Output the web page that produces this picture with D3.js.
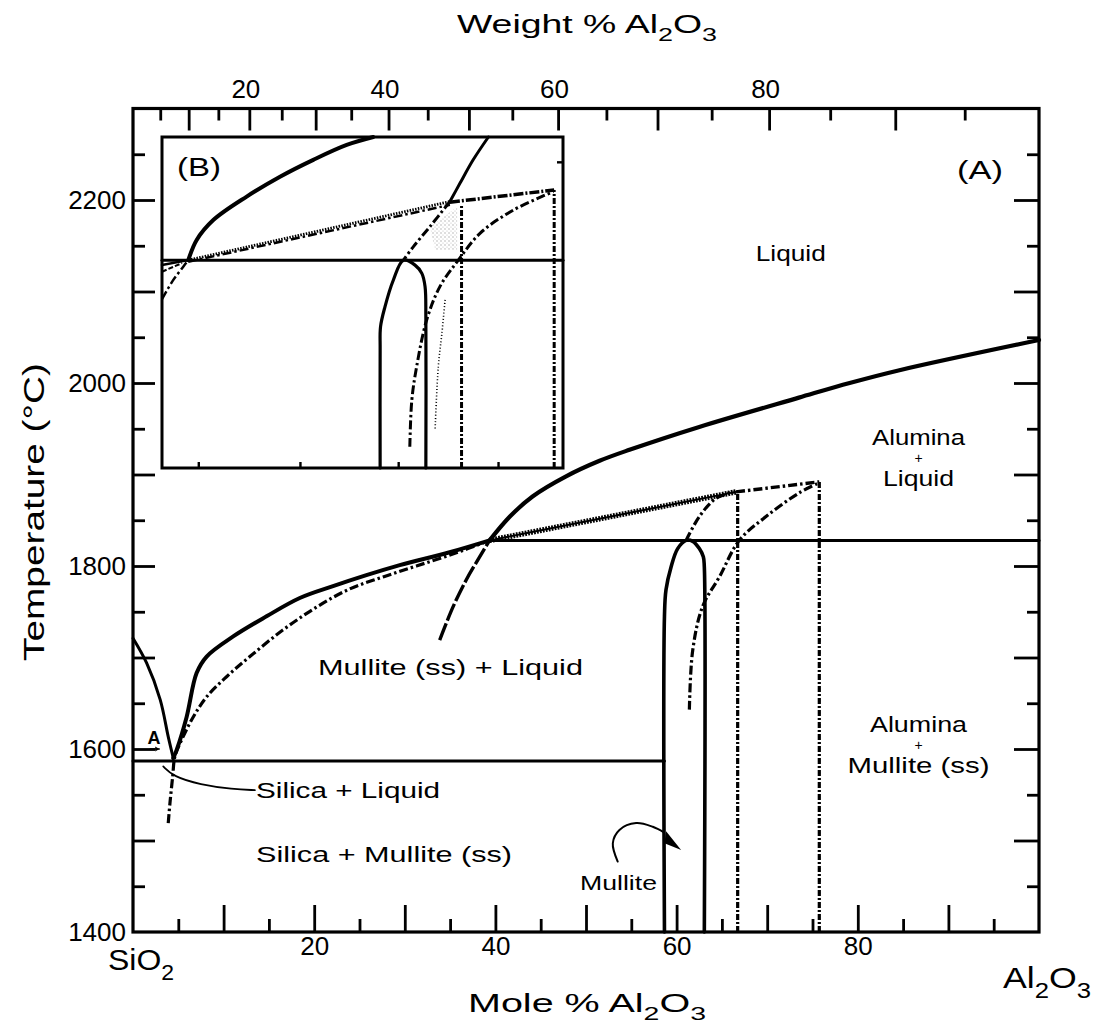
<!DOCTYPE html>
<html><head><meta charset="utf-8">
<script src="https://cdn.jsdelivr.net/npm/d3@7"></script>
<style>body{margin:0;background:#fff}svg{display:block}</style>
</head><body>
<svg id="chart" width="1094" height="1034"></svg>
<script>
// ---------- axis values ----------
const moleTicks = [5,10,15,20,25,30,35,40,45,50,55,60,65,70,75,80,85,90,95];
const moleLabels = [20,40,60,80];
const weightTicks = [5,10,15,20,25,30,35,40,45,50,55,60,65,70,75,80,85,90,95];
const weightLabels = [20,40,60,80];
const tempTicks = [1450,1500,1550,1600,1650,1700,1750,1800,1850,1900,1950,2000,2050,2100,2150,2200,2250];
const tempLabels = [1400,1600,1800,2000,2200];

// ---------- main diagram (mole % Al2O3, °C) ----------
const eutecticLine = [[0,1587],[58.66,1587]];
const peritecticLine = [[39.36,1828],[100,1828]];
const cristobaliteLiquidus = [[0,1721],[1.5,1694],[3.0,1654],[3.9,1613],[4.45,1590]];
const mulliteLiquidus = [[4.44,1590],[4.82,1599],[5.92,1635],[7.02,1683],[8.13,1701],[11.06,1723],[14.74,1745],[18.41,1765],[22.08,1778],[25.76,1790],[29.44,1801],[34.95,1815],[39.36,1828]];
const aluminaLiquidus = [[39.36,1828],[41.6,1854],[44.1,1876],[47.8,1898],[51.5,1915],[54.8,1927],[62.5,1952],[73.5,1984],[79.1,2000],[84.6,2014],[100,2047]];
const liquidusExtension = [[33.85,1719],[35.31,1755],[36.79,1785],[38.26,1810],[39.36,1828]];
const metastableLiquidus = [[3.89,1519],[4.08,1541],[4.38,1570],[4.63,1592],[5.37,1610],[6.65,1635],[8.13,1657],[10.33,1679],[12.9,1701],[16.54,1730],[20.25,1755],[23.93,1775],[27.6,1788],[31.28,1800],[35.3,1813],[39.36,1828]];
const metastableDotted = [[39.36,1828],[66.56,1881]];
const metastableDashDot = [[66.56,1881],[75.75,1892]];
const mulliteSS = [[58.66,1400],[58.66,1745],[58.83,1774],[59.39,1799],[60.12,1819],[61.05,1828],[61.78,1827],[62.51,1819],[62.95,1810],[63.06,1799],[63.06,1400]];
const mulliteMetaUpper = [[61.05,1828],[62.51,1854],[64.35,1874],[66.3,1881]];
const mulliteMetaRight = [[61.41,1643],[61.78,1708],[62.88,1756],[64.72,1788],[66.92,1828],[69.87,1854],[73.54,1880],[75.75,1891]];
const dashVertical1 = [[66.74,1400],[66.74,1881]];
const dashVertical2 = [[75.75,1400],[75.75,1892]];

// annotations (data units)
const silicaLeader = [[3.34,1581],[4.44,1570],[7.39,1561],[11.03,1556],[13.45,1555]];
const mulliteArrowArc = [[53.5,1477],[52.96,1497],[53.69,1511.5],[55.53,1519],[57.37,1515],[58.6,1509]];
const mulliteArrowHead = [[58.84,1510],[60.5,1489.6],[58.66,1497]];
const arrowA = [[1.9,1600],[2.9,1600]];
const regionLabels = [
  {key:'liq', lines:['Liquid'], m:72.6, t:2133},
  {key:'al1', lines:['Alumina','+','Liquid'], m:86.7, t:1932},
  {key:'al2', lines:['Alumina','+','Mullite (ss)'], m:86.7, t:1618.5},
  {key:'msl', lines:['Mullite (ss) + Liquid'], m:20.42, t:1681},
  {key:'sl', lines:['Silica + Liquid'], m:13.58, t:1546},
  {key:'sm', lines:['Silica + Mullite (ss)'], m:13.58, t:1476.5},
  {key:'mul', lines:['Mullite'], m:49.34, t:1446},
  {key:'A', lines:['(A)'], m:93.5, t:2223},
  {key:'a', lines:['A'], m:2.32, t:1606}
];

// ---------- inset (B), relative units 0-100 ----------
const insetHorizontal = [[0,62.8],[100,62.8]];
const insetLiquidus = [[6.56,62.8],[8.65,68.9],[12.79,74.9],[21.12,82.0],[29.43,88.0],[37.73,93.1],[46.06,97.6],[52.7,100]];
const insetLeftSolid = [[0,61.3],[6.56,62.8]];
const insetLeftDash = [[0,59.3],[5.0,61.9]];
const insetLeftCurve = [[0,51.0],[2.7,56.6],[5.3,60.8],[6.4,62.6]];
const insetMetaDotted = [[6.56,62.8],[71.8,80.5]];
const insetMetaDashDot = [[6.56,62.3],[71.8,79.5]];
const insetMetaRight = [[71.8,80.3],[97.8,84.0]];
const insetMulliteLiquidus = [[81.4,100],[77.6,93.1],[74.3,86.0],[71.8,80.5]];
const insetLiquidusDash = [[71.8,80.5],[66.8,72.9],[62.7,66.9],[60.2,62.8]];
const insetMulliteSS = [[54.4,0],[54.4,35.6],[54.5,42.7],[55.6,48.7],[57.7,56.8],[60.2,62.8],[63.1,61.3],[64.8,58.8],[65.6,54.8],[65.8,45],[65.8,0]];
const insetDashRight = [[61.8,6.4],[62.3,20.5],[63.5,30.6],[66.0,44.7],[69.3,54.8],[73.9,62.8],[79.3,70.9],[87.6,77.9],[97.6,83.5]];
const insetVertical1 = [[74.7,0],[74.7,79.5]];
const insetVertical2 = [[97.8,0],[97.8,84.0]];
const insetStippleLine = [[70.6,50.8],[69.8,40.7],[68.9,30.6],[68.1,11.5]];
const insetStipplePatch = [[66.8,72.8],[73.6,78.9],[73.6,65.9],[68.1,65.9]];
const insetTicksX = [9.05,34.4,58.9,83.8];
const insetTicksY = [92.5];

// ---------- drawing ----------
const FONT = "'Liberation Sans', Arial, Helvetica, sans-serif";
const svg = d3.select('#chart');
svg.append('rect').attr('width',1094).attr('height',1034).attr('fill','#fff');

const x = d3.scaleLinear().domain([0,100]).range([133,1039]);
const y = d3.scaleLinear().domain([1400,2300]).range([932,108.5]);
const w2m = w => 100*(w/101.96)/((w/101.96)+((100-w)/60.08));

const defs = svg.append('defs');
const pat = defs.append('pattern').attr('id','stip').attr('width',4).attr('height',4).attr('patternUnits','userSpaceOnUse');
pat.append('circle').attr('cx',1).attr('cy',1).attr('r',0.7).attr('fill','#666');
pat.append('circle').attr('cx',3).attr('cy',3).attr('r',0.6).attr('fill','#888');

function drawLine(g, data, sx, sy, width, dash, curve){
  const gen = d3.line().x(d=>sx(d[0])).y(d=>sy(d[1])).curve(curve||d3.curveLinear);
  g.append('path').attr('d',gen(data)).attr('fill','none').attr('stroke','#000')
    .attr('stroke-width',width).attr('stroke-dasharray',dash||null)
    .attr('stroke-linejoin','round').attr('stroke-linecap', dash?'butt':'round');
}
const CR = d3.curveCatmullRom.alpha(0.5);
const DASHDOT = '9,3,2.5,3';

function tickAxis(axisFn, scale, values, size, transform){
  const g = svg.append('g').attr('transform',transform)
    .call(axisFn(scale).tickValues(values).tickSize(size).tickFormat(''));
  g.select('.domain').remove();
  g.selectAll('line').attr('stroke','#000').attr('stroke-width',2.8);
}
function labelAxis(axis, transform){
  const g = svg.append('g').attr('transform',transform).call(axis);
  g.select('.domain').remove();
  g.selectAll('line').remove();
  g.attr('font-family',FONT).attr('font-size',26);
  g.selectAll('text').attr('fill','#000');
  return g;
}

// bottom (mole %) ticks pointing up
tickAxis(d3.axisTop, x, moleTicks.filter(d=>d%10===0), 27, `translate(0,${y(1400)})`);
tickAxis(d3.axisTop, x, moleTicks.filter(d=>d%10!==0), 13, `translate(0,${y(1400)})`);
labelAxis(d3.axisBottom(x).tickValues(moleLabels).tickSize(0).tickPadding(5), `translate(0,${y(1400)})`);

// top (weight %) ticks pointing down
tickAxis(d3.axisBottom, x, weightTicks.filter(d=>d%10===0).map(w2m), 22, `translate(0,${y(2300)})`);
tickAxis(d3.axisBottom, x, weightTicks.filter(d=>d%10!==0).map(w2m), 12, `translate(0,${y(2300)})`);
labelAxis(d3.axisTop(x).tickValues(weightLabels.map(w2m)).tickFormat((d,i)=>weightLabels[i]).tickSize(0).tickPadding(11), `translate(-4,${y(2300)})`);

// left / right temperature ticks (inward)
tickAxis(d3.axisRight, y, tempTicks.filter(d=>d%100===0), 22, `translate(${x(0)},0)`);
tickAxis(d3.axisRight, y, tempTicks.filter(d=>d%100!==0), 12, `translate(${x(0)},0)`);
tickAxis(d3.axisLeft, y, tempTicks.filter(d=>d%100===0), 25, `translate(${x(100)},0)`);
tickAxis(d3.axisLeft, y, tempTicks.filter(d=>d%100!==0), 12, `translate(${x(100)},0)`);
labelAxis(d3.axisLeft(y).tickValues(tempLabels).tickFormat(d3.format('d')).tickSize(0).tickPadding(7), `translate(${x(0)},0)`);

// frame
svg.append('rect').attr('x',x(0)).attr('y',y(2300)).attr('width',x(100)-x(0)).attr('height',y(1400)-y(2300))
  .attr('fill','none').attr('stroke','#000').attr('stroke-width',3.2);

// main curves
const g = svg.append('g');
drawLine(g, eutecticLine, x, y, 3);
drawLine(g, peritecticLine, x, y, 3);
drawLine(g, metastableLiquidus, x, y, 3.2, DASHDOT, CR);
drawLine(g, cristobaliteLiquidus, x, y, 3, null, CR);
drawLine(g, mulliteLiquidus, x, y, 4, null, CR);
drawLine(g, aluminaLiquidus, x, y, 4.2, null, CR);
drawLine(g, liquidusExtension, x, y, 3.4, '18,3', CR);
drawLine(g, metastableDotted, x, y, 5.5, '1.8,1.2');
drawLine(g, metastableDotted, x, y, 2);
drawLine(g, metastableDashDot, x, y, 3.4, DASHDOT);
drawLine(g, mulliteSS, x, y, 3.6, null, CR);
drawLine(g, mulliteMetaUpper, x, y, 3.2, DASHDOT, CR);
drawLine(g, mulliteMetaRight, x, y, 3.2, DASHDOT, CR);
drawLine(g, dashVertical1, x, y, 3.2, '6,2,2,2');
drawLine(g, dashVertical2, x, y, 3.2, '6,2,2,2');

// annotations
drawLine(g, silicaLeader, x, y, 1.8, null, d3.curveBasis);
drawLine(g, mulliteArrowArc, x, y, 2, null, CR);
g.append('path').attr('d', d3.line().x(d=>x(d[0])).y(d=>y(d[1]))(mulliteArrowHead)+'Z').attr('fill','#000');
drawLine(g, arrowA, x, y, 1.4);
g.append('path').attr('d', `M${x(arrowA[1][0])},${y(arrowA[1][1])} l-4,-2.5 l0,5 Z`).attr('fill','#000');

// text labels (multi-line labels as one text with tspans)
const labelStyle = {
  liq:{anchor:'middle', lines:[{size:22,len:70}]},
  al1:{anchor:'middle', lines:[{size:22,len:93},{size:14,dy:18},{size:22,len:71,dy:23}]},
  al2:{anchor:'middle', lines:[{size:22,len:97},{size:14,dy:18},{size:21.5,len:142,dy:23}]},
  msl:{anchor:'start', lines:[{size:22,len:265}]},
  sl:{anchor:'start', lines:[{size:22,len:184}]},
  sm:{anchor:'start', lines:[{size:22,len:256}]},
  mul:{anchor:'start', lines:[{size:20,len:77}]},
  A:{anchor:'middle', lines:[{size:26,len:46}]},
  a:{anchor:'middle', weight:'bold', lines:[{size:19,len:13}]}
};
regionLabels.forEach(d=>{
  const s = labelStyle[d.key];
  const t = g.append('text').attr('x',x(d.m)).attr('y',y(d.t))
    .attr('font-family',FONT).attr('text-anchor',s.anchor)
    .attr('font-weight',s.weight||'normal').attr('fill','#000');
  d.lines.forEach((line,i)=>{
    const ls = s.lines[i];
    const ts = t.append('tspan').attr('x',x(d.m)).attr('dy',ls.dy||0).attr('font-size',ls.size).text(line);
    if(ls.len) ts.attr('textLength',ls.len).attr('lengthAdjust','spacingAndGlyphs');
  });
});

// rich text helper for subscripts
function rich(sel, parts, size){
  parts.forEach(p=>{
    const ts = sel.append('tspan').text(p[0]);
    if(p[1]===1) ts.attr('dy', size*0.32).attr('font-size', size*0.72);
    else if(p[1]===-1) ts.attr('dy', -size*0.32);
  });
}
// axis titles
const t1 = svg.append('text').attr('x',457).attr('y',33).attr('font-family',FONT).attr('font-size',26).attr('textLength',260).attr('lengthAdjust','spacingAndGlyphs');
rich(t1, [['Weight % Al',0],['2',1],['O',-1],['3',1]], 26);
const t2 = svg.append('text').attr('x',468).attr('y',1012).attr('font-family',FONT).attr('font-size',26).attr('textLength',238).attr('lengthAdjust','spacingAndGlyphs');
rich(t2, [['Mole % Al',0],['2',1],['O',-1],['3',1]], 26);
svg.append('text').attr('transform','translate(44,512) rotate(-90)').attr('text-anchor','middle')
  .attr('font-family',FONT).attr('font-size',30).attr('textLength',298).attr('lengthAdjust','spacingAndGlyphs').text('Temperature (°C)');
const t4 = svg.append('text').attr('x',108).attr('y',970).attr('font-family',FONT).attr('font-size',30).attr('textLength',66).attr('lengthAdjust','spacingAndGlyphs');
rich(t4, [['SiO',0],['2',1]], 30);
const t5 = svg.append('text').attr('x',1003).attr('y',988).attr('font-family',FONT).attr('font-size',30).attr('textLength',88).attr('lengthAdjust','spacingAndGlyphs');
rich(t5, [['Al',0],['2',1],['O',-1],['3',1]], 30);

// ---------- inset B ----------
const ix = d3.scaleLinear().domain([0,100]).range([162,563]);
const iy = d3.scaleLinear().domain([0,100]).range([468,137]);
const ig = svg.append('g');
ig.append('rect').attr('x',ix(0)).attr('y',iy(100)).attr('width',ix(100)-ix(0)).attr('height',iy(0)-iy(100)).attr('fill','#fff');
ig.append('path').attr('d', d3.line().x(d=>ix(d[0])).y(d=>iy(d[1]))(insetStipplePatch)+'Z').attr('fill','url(#stip)').attr('opacity',0.6);
drawLine(ig, insetStippleLine, ix, iy, 1.6, '1,2.2', CR);
drawLine(ig, insetHorizontal, ix, iy, 3);
drawLine(ig, insetLeftSolid, ix, iy, 2.5);
drawLine(ig, insetLeftDash, ix, iy, 2, '5,2');
drawLine(ig, insetLeftCurve, ix, iy, 2.5, DASHDOT, CR);
drawLine(ig, insetLiquidus, ix, iy, 4, null, CR);
drawLine(ig, insetMetaDotted, ix, iy, 2.8, '1.5,1.3');
drawLine(ig, insetMetaDashDot, ix, iy, 2.5, DASHDOT);
drawLine(ig, insetMetaRight, ix, iy, 3.5, '10,2,2,2');
drawLine(ig, insetMulliteLiquidus, ix, iy, 3, null, CR);
drawLine(ig, insetLiquidusDash, ix, iy, 3, DASHDOT, CR);
drawLine(ig, insetMulliteSS, ix, iy, 3.2, null, CR);
drawLine(ig, insetDashRight, ix, iy, 3, DASHDOT, CR);
drawLine(ig, insetVertical1, ix, iy, 3, '6,2,2,2');
drawLine(ig, insetVertical2, ix, iy, 3, '6,2,2,2');
const ia = ig.append('g').attr('transform',`translate(0,${iy(0)})`).call(d3.axisTop(ix).tickValues(insetTicksX).tickSize(6).tickFormat(''));
ia.select('.domain').remove(); ia.selectAll('line').attr('stroke','#000').attr('stroke-width',2.4);
const ib = ig.append('g').attr('transform',`translate(${ix(100)},0)`).call(d3.axisLeft(iy).tickValues(insetTicksY).tickSize(6).tickFormat(''));
ib.select('.domain').remove(); ib.selectAll('line').attr('stroke','#000').attr('stroke-width',2.4);
ig.append('rect').attr('x',ix(0)).attr('y',iy(100)).attr('width',ix(100)-ix(0)).attr('height',iy(0)-iy(100))
  .attr('fill','none').attr('stroke','#000').attr('stroke-width',3);
ig.append('text').attr('x',ix(3.74)).attr('y',iy(88.2)).attr('font-family',FONT).attr('font-size',26)
  .attr('textLength',44).attr('lengthAdjust','spacingAndGlyphs').text('(B)');
</script>
</body></html>
